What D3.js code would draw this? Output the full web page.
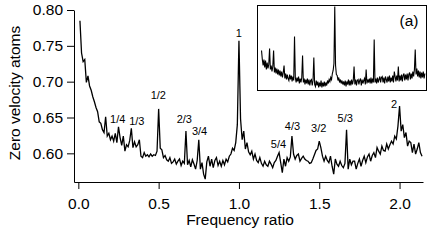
<!DOCTYPE html>
<html>
<head>
<meta charset="utf-8">
<script src="https://cdn.jsdelivr.net/npm/d3@7"></script>
<style>
  body { margin: 0; background: #fff; }
  svg text { font-family: "Liberation Sans", Arial, sans-serif; fill: #000; }
</style>
</head>
<body>
<div id="chart"></div>
<script>
var svgWidth = 436;
var svgHeight = 241;

// main spectrum, sampled every 0.01 in frequency ratio starting at 0.01
var freqStart = 0.01;
var freqStep = 0.01;
var atoms = [
  0.785, 0.740, 0.728, 0.731, 0.699, 0.708, 0.694, 0.688, 0.679, 0.672,
  0.664, 0.658, 0.644, 0.642, 0.633, 0.629, 0.651, 0.624, 0.628, 0.619,
  0.624, 0.617, 0.628, 0.615, 0.637, 0.622, 0.611, 0.624, 0.603, 0.612,
  0.609, 0.618, 0.635, 0.608, 0.616, 0.609, 0.612, 0.619, 0.596, 0.594,
  0.601, 0.596, 0.598, 0.595, 0.599, 0.596, 0.598, 0.597, 0.603, 0.662,
  0.607, 0.605, 0.594, 0.597, 0.591, 0.589, 0.594, 0.586, 0.588, 0.592,
  0.585, 0.589, 0.592, 0.583, 0.589, 0.586, 0.631, 0.584, 0.590, 0.581,
  0.591, 0.585, 0.578, 0.590, 0.619, 0.578, 0.587, 0.571, 0.564, 0.588,
  0.596, 0.582, 0.592, 0.580, 0.590, 0.594, 0.583, 0.589, 0.582, 0.590,
  0.584, 0.592, 0.588, 0.596, 0.599, 0.607, 0.604, 0.615, 0.640, 0.757,
  0.648, 0.619, 0.631, 0.606, 0.615, 0.602, 0.598, 0.603, 0.592, 0.599,
  0.590, 0.587, 0.594, 0.586, 0.582, 0.589, 0.584, 0.582, 0.589, 0.585,
  0.580, 0.587, 0.590, 0.596, 0.601, 0.587, 0.573, 0.592, 0.582, 0.594,
  0.589, 0.595, 0.624, 0.599, 0.592, 0.597, 0.599, 0.589, 0.593, 0.596,
  0.592, 0.590, 0.589, 0.586, 0.587, 0.592, 0.598, 0.604, 0.606, 0.617,
  0.608, 0.596, 0.589, 0.596, 0.590, 0.587, 0.596, 0.582, 0.571, 0.592,
  0.585, 0.582, 0.589, 0.583, 0.580, 0.586, 0.633, 0.578, 0.592, 0.584,
  0.589, 0.589, 0.578, 0.586, 0.592, 0.582, 0.590, 0.596, 0.587, 0.595,
  0.599, 0.589, 0.597, 0.601, 0.594, 0.608, 0.603, 0.599, 0.610, 0.604,
  0.603, 0.613, 0.606, 0.612, 0.617, 0.613, 0.624, 0.620, 0.638, 0.666,
  0.631, 0.640, 0.622, 0.629, 0.610, 0.617, 0.615, 0.601, 0.613, 0.599,
  0.606, 0.615, 0.601, 0.596
];

// inset (a): finer scan, relative signal, every 0.01 starting at 0.09
var insetStart = 0.09;
var insetStep = 0.01;
var insetSignal = [
  39, 30, 24, 30, 22, 29, 20, 27, 21, 25,
  41, 20, 24, 18, 23, 39, 17, 22, 16, 21,
  15, 20, 14, 19, 13, 18, 12, 17, 24, 11,
  16, 10, 15, 11, 9, 15, 10, 14, 8, 13,
  9, 53, 12, 7, 12, 8, 13, 6, 11, 7,
  12, 34, 7, 11, 5, 10, 6, 11, 5, 10,
  4, 9, 10, 4, 9, 32, 5, 3, 9, 4,
  8, 2, 7, 3, 9, 2, 7, 3, 8, 3,
  7, 4, 9, 6, 10, 8, 12, 10, 16, 19,
  26, 83, 24, 15, 14, 9, 12, 7, 10, 6,
  9, 5, 8, 4, 9, 3, 8, 5, 10, 4,
  9, 4, 10, 5, 9, 23, 5, 10, 4, 9,
  10, 5, 9, 11, 4, 10, 6, 9, 11, 5,
  20, 6, 10, 7, 11, 6, 12, 6, 11, 7,
  50, 7, 11, 6, 12, 7, 10, 13, 7, 12,
  13, 7, 12, 6, 13, 10, 7, 13, 8, 14,
  7, 12, 8, 14, 7, 18, 13, 8, 14, 9,
  23, 8, 14, 9, 15, 8, 14, 16, 9, 15,
  10, 16, 9, 15, 17, 10, 16, 11, 18, 13,
  20, 40, 15, 21, 13, 19, 12, 18, 11, 17,
  12, 18, 11, 16
];

// resonance labels
var peakNames = ["1/4", "1/3", "1/2", "2/3", "3/4", "1", "5/4", "4/3", "3/2", "5/3", "2"];
var peakFreq = [0.245, 0.364, 0.498, 0.660, 0.755, 0.999, 1.246, 1.333, 1.497, 1.662, 1.966];
var peakLevel = [0.642, 0.639, 0.676, 0.642, 0.626, 0.762, 0.608, 0.632, 0.630, 0.644, 0.663];

var xTicks = [0, 0.5, 1, 1.5, 2];
var yTicks = [0.60, 0.65, 0.70, 0.75, 0.80];

var mainData = atoms.map(function(v, i) {
  return { f: freqStart + i * freqStep, v: v };
});
var insetData = insetSignal.map(function(v, i) {
  return { f: insetStart + i * insetStep, v: v };
});

var svg = d3.select("#chart")
  .append("svg")
  .attr("width", svgWidth)
  .attr("height", svgHeight);

// scales
var xScale = d3.scaleLinear()
  .domain([-0.027, 2.146])
  .range([74, 423]);

var yScale = d3.scaleLinear()
  .domain([0.56, 0.80])
  .range([182, 10]);

// axes
var bottomAxis = d3.axisBottom(xScale)
  .tickValues(xTicks)
  .tickFormat(d3.format(".1f"))
  .tickSize(7)
  .tickSizeOuter(0)
  .tickPadding(9);

var leftAxis = d3.axisLeft(yScale)
  .tickValues(yTicks)
  .tickFormat(d3.format(".2f"))
  .tickSize(7)
  .tickSizeOuter(0)
  .tickPadding(4);

var xAxis = svg.append("g")
  .attr("transform", "translate(0," + 182 + ")")
  .call(bottomAxis);

var yAxis = svg.append("g")
  .attr("transform", "translate(" + 74 + ",0)")
  .call(leftAxis);

svg.selectAll(".tick text")
  .style("font-size", "15.5px");
svg.selectAll(".domain, .tick line")
  .attr("stroke", "#000")
  .attr("stroke-width", 1);

// axis titles
svg.append("text")
  .attr("x", 240)
  .attr("y", 225)
  .attr("text-anchor", "middle")
  .style("font-size", "15.5px")
  .text("Frequency ratio");

svg.append("text")
  .attr("transform", "translate(19.5,93) rotate(-90)")
  .attr("text-anchor", "middle")
  .style("font-size", "15.5px")
  .text("Zero velocity atoms");

// main line
var line = d3.line()
  .x(function(d) { return xScale(d.f); })
  .y(function(d) { return yScale(d.v); });

svg.append("path")
  .datum(mainData)
  .attr("fill", "none")
  .attr("stroke", "#000")
  .attr("stroke-width", 1.3)
  .attr("d", line);

// peak labels
svg.selectAll(".peak")
  .data(peakNames)
  .enter()
  .append("text")
  .attr("class", "peak")
  .attr("x", function(d, i) { return xScale(peakFreq[i]); })
  .attr("y", function(d, i) { return yScale(peakLevel[i]); })
  .attr("text-anchor", "middle")
  .style("font-size", "11px")
  .text(function(d) { return d; });

// inset (a)
var insetX = d3.scaleLinear()
  .domain([0.04, 2.14])
  .range([257.5, 426.5]);

var insetY = d3.scaleLinear()
  .domain([0, 84])
  .range([89.5, 5.5]);

svg.append("rect")
  .attr("x", 257.5)
  .attr("y", 5.5)
  .attr("width", 169)
  .attr("height", 85)
  .attr("fill", "#fff")
  .attr("stroke", "#000")
  .attr("stroke-width", 1);

var insetLine = d3.line()
  .x(function(d) { return insetX(d.f); })
  .y(function(d) { return insetY(d.v); });

svg.append("path")
  .datum(insetData)
  .attr("fill", "none")
  .attr("stroke", "#000")
  .attr("stroke-width", 1.1)
  .attr("d", insetLine);

svg.append("text")
  .attr("x", 409)
  .attr("y", 26)
  .attr("text-anchor", "middle")
  .style("font-size", "15.5px")
  .text("(a)");
</script>
</body>
</html>
